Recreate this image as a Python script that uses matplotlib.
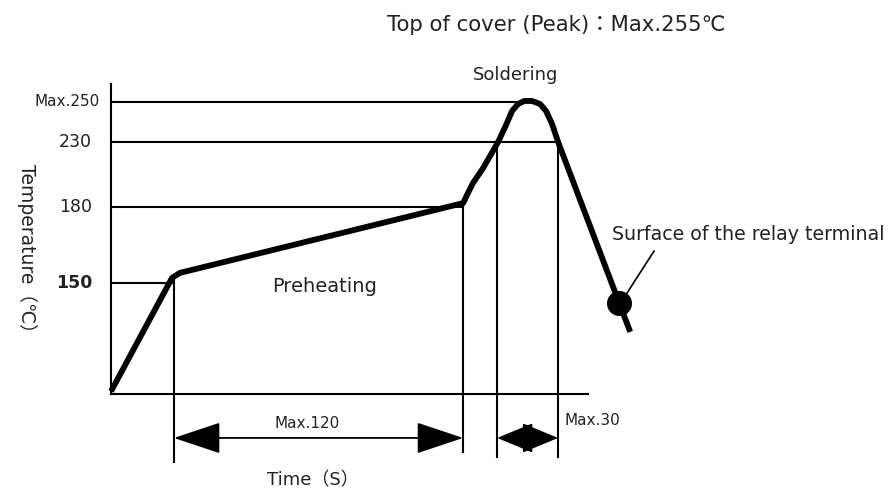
import numpy as np
import matplotlib.pyplot as plt

plt.rcParams['font.family'] = ['DejaVu Sans', 'Noto Sans CJK JP']

# reflow profile (schematic), time in s, temperature in deg C
time_s = [0, 25.3, 28.6, 146.1, 148.1, 150.2, 154.4, 160.6, 163.9, 166.4,
          168.9, 171.4, 174.7, 178.0, 180.5, 183.0, 185.5, 215.4]
temp_c = [28, 152, 154, 183, 190.8, 198.5, 210, 230, 238.5, 245.5,
          249, 250.5, 250.5, 249, 245.5, 239, 230, 95]

ytick_vals = [150, 180, 230, 250]
ytick_labels = ['150', '180', '230', 'Max.250']
ref_end_t = [25.3, 146.1, 185.5, 168.5]   # where each level meets the curve

preheat_t = [26.1, 146.1]     # Max.120
solder_t = [160.2, 185.5]     # Max.30
terminal_pt = (210.8, 127.5)  # relay terminal marker

# the drawing is not to scale: piecewise temperature axis
knot_t = [-100, 25, 150, 180, 230, 250, 320]
knot_h = [-9, 102, 213, 289, 354, 394, 534]


def fwd(v):
    return np.interp(v, knot_t, knot_h)


def inv(v):
    return np.interp(v, knot_h, knot_t)


fig = plt.figure(figsize=(8.9, 4.96), dpi=100)
ax = fig.add_axes([0, 0, 1, 1])
ax.set_yscale('function', functions=(fwd, inv))
ax.set_xlim(-46.06, 323.2)
ax.set_ylim(inv(0), inv(496))

txt = '#222222'
for s in ['top', 'right']:
    ax.spines[s].set_visible(False)
ax.spines['left'].set_position(('data', 0))
ax.spines['left'].set_bounds(25, 259)
ax.spines['bottom'].set_position(('data', 25))
ax.spines['bottom'].set_bounds(0, 198)
for s in ['left', 'bottom']:
    ax.spines[s].set_linewidth(1.5)
ax.set_xticks([])
ax.set_yticks([])
ax.yaxis.set_minor_locator(plt.NullLocator())

# tick labels (numbers are wider and sit a bit further left)
for v, lab in zip(ytick_vals, ytick_labels):
    if lab.startswith('Max'):
        ax.text(-4.6, v, lab, ha='right', va='center', fontsize=11, color=txt)
    else:
        ax.text(-7.9, v, lab, ha='right', va='center', fontsize=12.5, color=txt,
                fontweight='bold' if v == 150 else 'normal')

# level lines
for v, te in zip(ytick_vals, ref_end_t):
    ax.plot([0, te], [v, v], color='black', lw=1.5)

# vertical dimension lines
ax.plot([preheat_t[0]] * 2, [152, -51.6], color='black', lw=1.5)
ax.plot([preheat_t[1]] * 2, [183, -40.3], color='black', lw=1.5)
ax.plot([solder_t[0]] * 2, [230, -46], color='black', lw=1.5)
ax.plot([solder_t[1]] * 2, [230, -46], color='black', lw=1.5)

arrow = dict(arrowstyle='<|-|>,head_length=3,head_width=1', mutation_scale=10,
             shrinkA=0, shrinkB=0, color='black', lw=1.3)
ax.annotate('', xy=(preheat_t[1], -24.5), xytext=(preheat_t[0], -24.5), arrowprops=arrow)
arrow_s = dict(arrow, arrowstyle='<|-|>,head_length=2.3,head_width=0.95')
ax.annotate('', xy=(solder_t[1], -24.5), xytext=(solder_t[0], -24.5), arrowprops=arrow_s)

# profile
ax.plot(time_s, temp_c, color='black', lw=4.2, solid_capstyle='butt',
        solid_joinstyle='round')
ax.plot(*terminal_pt, 'o', color='black', ms=17)
ax.plot([213.3, 225.3], [135.4, 162.6], color='black', lw=1.2)

# texts
ax.text(184.6, 288.5, 'Top of cover (Peak)：Max.255℃', ha='center', va='center',
        fontsize=15.3, color=txt)
ax.text(168, 263.5, 'Soldering', ha='center', va='center', fontsize=13, color=txt)
ax.text(88.8, 145.5, 'Preheating', ha='center', va='center', fontsize=14, color=txt)
ax.text(207.9, 169, 'Surface of the relay terminal', ha='left', va='center',
        fontsize=13.7, color=txt)
ax.text(81.3, -7.7, 'Max.120', ha='center', va='center', fontsize=11, color=txt)
ax.text(188, -4.3, 'Max.30', ha='left', va='center', fontsize=11, color=txt)
ax.text(83.8, -71.8, 'Time（S）', ha='center', va='center', fontsize=13, color=txt)
ax.text(-34.9, 161.8, 'Temperature（℃）', ha='center', va='center', rotation=-90,
        fontsize=13.5, color=txt)

fig.savefig('out.png', dpi=100)
